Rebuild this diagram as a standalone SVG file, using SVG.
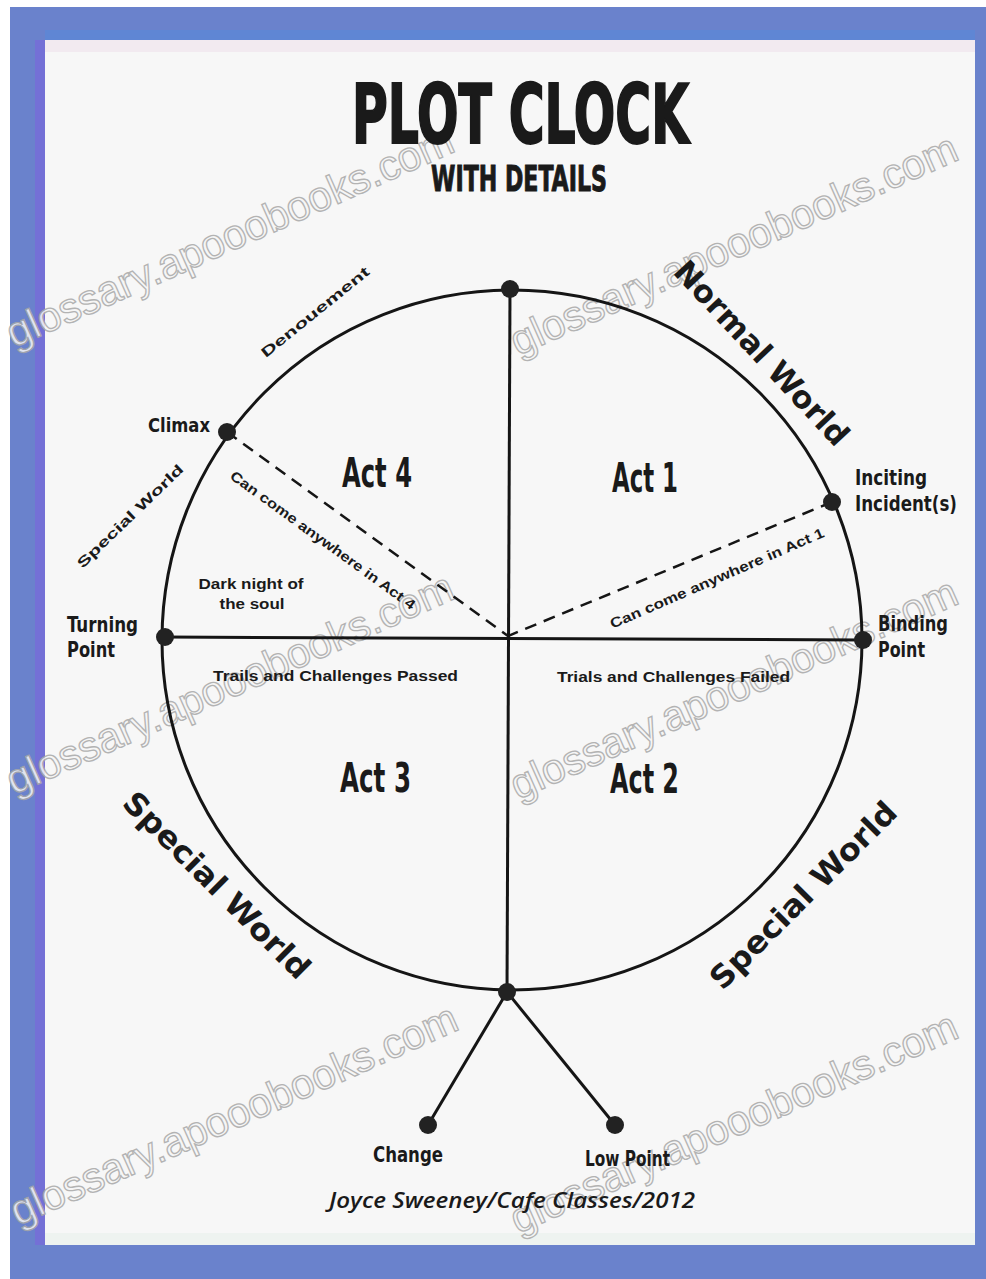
<svg xmlns="http://www.w3.org/2000/svg" width="986" height="1279" viewBox="0 0 986 1279">
<style>
.lbl{font-family:"Liberation Sans Narrow","DejaVu Sans Condensed","Liberation Sans",sans-serif;font-weight:bold;fill:#1a1a1a;}
.title{font-family:"Liberation Sans Narrow","DejaVu Sans Condensed","Liberation Sans",sans-serif;font-weight:bold;fill:#1a1a1a;stroke:#1a1a1a;stroke-width:2;}
.sm{font-family:"Liberation Sans","DejaVu Sans",sans-serif;font-weight:bold;fill:#1a1a1a;font-size:14px;}
.wm{font-family:"Liberation Sans",Arial,sans-serif;font-size:42px;fill:#f6f6f6;stroke:#a8a8a8;stroke-width:1.3;opacity:0.85;}
.ln{stroke:#151515;stroke-width:3;fill:none;}
.dash{stroke:#151515;stroke-width:2.5;fill:none;stroke-dasharray:12 8;}
.node{fill:#222;}
</style>
<rect x="0" y="0" width="986" height="1279" fill="#ffffff"/>
<rect x="10" y="7" width="976" height="1272" fill="#6a82cc"/>
<rect x="45" y="30" width="930" height="10" fill="#5f86d4"/>
<rect x="45" y="40" width="930" height="1205" fill="#f7f7f7"/>
<rect x="45" y="40" width="930" height="12" fill="#f2eaf0"/>
<rect x="45" y="1233" width="930" height="12" fill="#eef3f0"/>
<rect x="35" y="40" width="10" height="1205" fill="#7470d6"/>

<g id="watermarks">
<text class="wm" transform="translate(14,348) rotate(-24)">glossary.apooobooks.com</text>
<text class="wm" transform="translate(518,356) rotate(-24)">glossary.apooobooks.com</text>
<text class="wm" transform="translate(14,795) rotate(-24)">glossary.apooobooks.com</text>
<text class="wm" transform="translate(518,800) rotate(-24)">glossary.apooobooks.com</text>
<text class="wm" transform="translate(18,1226) rotate(-24)">glossary.apooobooks.com</text>
<text class="wm" transform="translate(518,1234) rotate(-24)">glossary.apooobooks.com</text>
</g>

<g id="title">
<text class="title" x="352" y="143" font-size="82" textLength="337" lengthAdjust="spacingAndGlyphs">PLOT CLOCK</text>
<text class="title" x="431" y="191" font-size="36" textLength="176" lengthAdjust="spacingAndGlyphs" style="stroke-width:1">WITH DETAILS</text>
</g>

<g id="connectors">
<circle class="ln" cx="512" cy="640" r="350"/>
<line class="ln" x1="510" y1="289" x2="507" y2="992"/>
<line class="ln" x1="165" y1="637" x2="863" y2="640"/>
<line class="dash" x1="227" y1="432" x2="508" y2="636"/>
<line class="dash" x1="832" y1="502" x2="508" y2="636"/>
<line class="ln" x1="507" y1="992" x2="428" y2="1125"/>
<line class="ln" x1="507" y1="992" x2="615" y2="1125"/>
</g>

<g id="node-top"><circle class="node" cx="510" cy="289" r="9"/></g>
<g id="node-climax"><circle class="node" cx="227" cy="432" r="9"/>
<text class="lbl" x="148" y="432" font-size="19" textLength="62" lengthAdjust="spacingAndGlyphs">Climax</text></g>
<g id="node-inciting"><circle class="node" cx="832" cy="502" r="9"/>
<text class="lbl" x="855" y="485" font-size="22" textLength="72" lengthAdjust="spacingAndGlyphs">Inciting</text>
<text class="lbl" x="855" y="511" font-size="22" textLength="102" lengthAdjust="spacingAndGlyphs">Incident(s)</text></g>
<g id="node-binding"><circle class="node" cx="863" cy="640" r="9"/>
<text class="lbl" x="878" y="631" font-size="22" textLength="70" lengthAdjust="spacingAndGlyphs">Binding</text>
<text class="lbl" x="878" y="657" font-size="22" textLength="47" lengthAdjust="spacingAndGlyphs">Point</text></g>
<g id="node-turning"><circle class="node" cx="165" cy="637" r="9"/>
<text class="lbl" x="67" y="632" font-size="22" textLength="71" lengthAdjust="spacingAndGlyphs">Turning</text>
<text class="lbl" x="67" y="657" font-size="22" textLength="48" lengthAdjust="spacingAndGlyphs">Point</text></g>
<g id="node-bottom"><circle class="node" cx="507" cy="992" r="9"/></g>
<g id="node-change"><circle class="node" cx="428" cy="1125" r="9"/>
<text class="lbl" x="373" y="1162" font-size="21" textLength="70" lengthAdjust="spacingAndGlyphs">Change</text></g>
<g id="node-lowpoint"><circle class="node" cx="615" cy="1125" r="9"/>
<text class="lbl" x="585" y="1166" font-size="21" textLength="85" lengthAdjust="spacingAndGlyphs">Low Point</text></g>

<g id="acts">
<text class="lbl" x="342" y="487" font-size="40" textLength="70" lengthAdjust="spacingAndGlyphs">Act 4</text>
<text class="lbl" x="612" y="492" font-size="40" textLength="66" lengthAdjust="spacingAndGlyphs">Act 1</text>
<text class="lbl" x="340" y="792" font-size="40" textLength="71" lengthAdjust="spacingAndGlyphs">Act 3</text>
<text class="lbl" x="610" y="793" font-size="40" textLength="69" lengthAdjust="spacingAndGlyphs">Act 2</text>
</g>

<g id="details">
<text class="sm" x="251" y="589" text-anchor="middle" textLength="105" lengthAdjust="spacingAndGlyphs">Dark night of</text>
<text class="sm" x="252" y="609" text-anchor="middle" textLength="65" lengthAdjust="spacingAndGlyphs">the soul</text>
<text class="sm" x="213" y="681" textLength="245" lengthAdjust="spacingAndGlyphs">Trails and Challenges Passed</text>
<text class="sm" x="557" y="682" textLength="233" lengthAdjust="spacingAndGlyphs">Trials and Challenges Failed</text>
<text class="sm" transform="translate(323,540) rotate(36)" y="5" text-anchor="middle" textLength="225" lengthAdjust="spacingAndGlyphs">Can come anywhere in Act 4</text>
<text class="sm" transform="translate(717,578) rotate(-23.5)" y="5" text-anchor="middle" textLength="232" lengthAdjust="spacingAndGlyphs">Can come anywhere in Act 1</text>
<text class="sm" transform="translate(315,312) rotate(-39)" y="5" text-anchor="middle" textLength="135" lengthAdjust="spacingAndGlyphs">Denouement</text>
<text class="sm" transform="translate(130,516) rotate(-44)" y="5" text-anchor="middle" textLength="142" lengthAdjust="spacingAndGlyphs">Special World</text>
</g>

<g id="worlds">
<text class="lbl" transform="translate(762,353) rotate(47)" y="11" font-size="31" text-anchor="middle" textLength="240" lengthAdjust="spacingAndGlyphs">Normal World</text>
<text class="lbl" transform="translate(217,885) rotate(45)" y="11" font-size="31" text-anchor="middle" textLength="250" lengthAdjust="spacingAndGlyphs">Special World</text>
<text class="lbl" transform="translate(803,895) rotate(-45)" y="11" font-size="31" text-anchor="middle" textLength="250" lengthAdjust="spacingAndGlyphs">Special World</text>
</g>

<g id="credit">
<text x="329" y="1208" font-family="'Open Sans','Noto Sans','Liberation Sans',sans-serif" font-style="italic" font-weight="600" font-size="21" fill="#1a1a1a" textLength="366" lengthAdjust="spacingAndGlyphs">Joyce Sweeney/Cafe Classes/2012</text>
</g>
</svg>
